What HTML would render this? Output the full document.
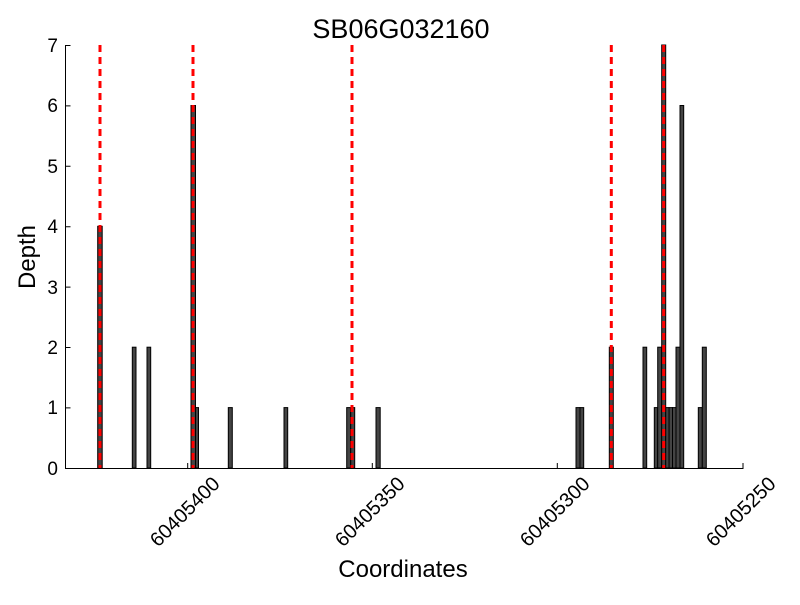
<!DOCTYPE html>
<html><head><style>body{margin:0;background:#fff}</style></head><body>
<svg width="800" height="600" xmlns="http://www.w3.org/2000/svg" font-family="Liberation Sans, sans-serif">
<rect width="800" height="600" fill="#fff"/>
<text x="401" y="38" font-size="27" text-anchor="middle">SB06G032160</text>
<g fill="#444" stroke="#000" stroke-width="1">
<rect x="97.7" y="226.3" width="4.5" height="241.7"/>
<rect x="132.3" y="347.2" width="3.7" height="120.8"/>
<rect x="147" y="347.2" width="3.7" height="120.8"/>
<rect x="191" y="105.5" width="4.5" height="362.5"/>
<rect x="195.5" y="407.6" width="3" height="60.4"/>
<rect x="228.3" y="407.6" width="4" height="60.4"/>
<rect x="284" y="407.6" width="3.7" height="60.4"/>
<rect x="346.7" y="407.6" width="4" height="60.4"/>
<rect x="350.7" y="407.6" width="4" height="60.4"/>
<rect x="376" y="407.6" width="4.2" height="60.4"/>
<rect x="576" y="407.6" width="4" height="60.4"/>
<rect x="580" y="407.6" width="3.7" height="60.4"/>
<rect x="609.3" y="347.2" width="4" height="120.8"/>
<rect x="643" y="347.2" width="3.7" height="120.8"/>
<rect x="654.3" y="407.6" width="3.4" height="60.4"/>
<rect x="657.7" y="347.2" width="4" height="120.8"/>
<rect x="661.7" y="45" width="4" height="423"/>
<rect x="665.7" y="407.6" width="3.4" height="60.4"/>
<rect x="669.1" y="407.6" width="3.4" height="60.4"/>
<rect x="672.5" y="407.6" width="3.5" height="60.4"/>
<rect x="676" y="347.2" width="4" height="120.8"/>
<rect x="680" y="105.5" width="3.7" height="362.5"/>
<rect x="698.3" y="407.6" width="4" height="60.4"/>
<rect x="702.3" y="347.2" width="4" height="120.8"/>
</g>
<g stroke="#f00" stroke-width="3" stroke-dasharray="7,5">
<line x1="100" y1="45" x2="100" y2="468"/>
<line x1="193" y1="45" x2="193" y2="468"/>
<line x1="352" y1="45" x2="352" y2="468"/>
<line x1="611.3" y1="45" x2="611.3" y2="468"/>
<line x1="663.7" y1="45" x2="663.7" y2="468"/>
</g>
<g stroke="#000" stroke-width="1" fill="none">
<line x1="65.5" y1="45" x2="65.5" y2="468.5"/>
<line x1="65" y1="468.5" x2="743.5" y2="468.5"/>
<path d="M65.5 45.5h5M65.5 105.9h5M65.5 166.3h5M65.5 226.7h5M65.5 287.1h5M65.5 347.5h5M65.5 407.9h5"/>
<path d="M187.7 468v-5M372.3 468v-5M557.3 468v-5M743 468v-5"/>
</g>
<g font-size="19" text-anchor="end">
<text x="58" y="52">7</text><text x="58" y="112">6</text><text x="58" y="173">5</text>
<text x="58" y="233">4</text><text x="58" y="294">3</text><text x="58" y="354">2</text>
<text x="58" y="414">1</text><text x="58" y="475">0</text>
</g>
<g font-size="20" text-anchor="end">
<text transform="translate(221,485) rotate(-45)">60405400</text>
<text transform="translate(406,485) rotate(-45)">60405350</text>
<text transform="translate(591,485) rotate(-45)">60405300</text>
<text transform="translate(777,485) rotate(-45)">60405250</text>
</g>
<text x="403" y="577" font-size="24" text-anchor="middle">Coordinates</text>
<text transform="translate(35,257) rotate(-90)" font-size="24" text-anchor="middle">Depth</text>
</svg>
</body></html>
